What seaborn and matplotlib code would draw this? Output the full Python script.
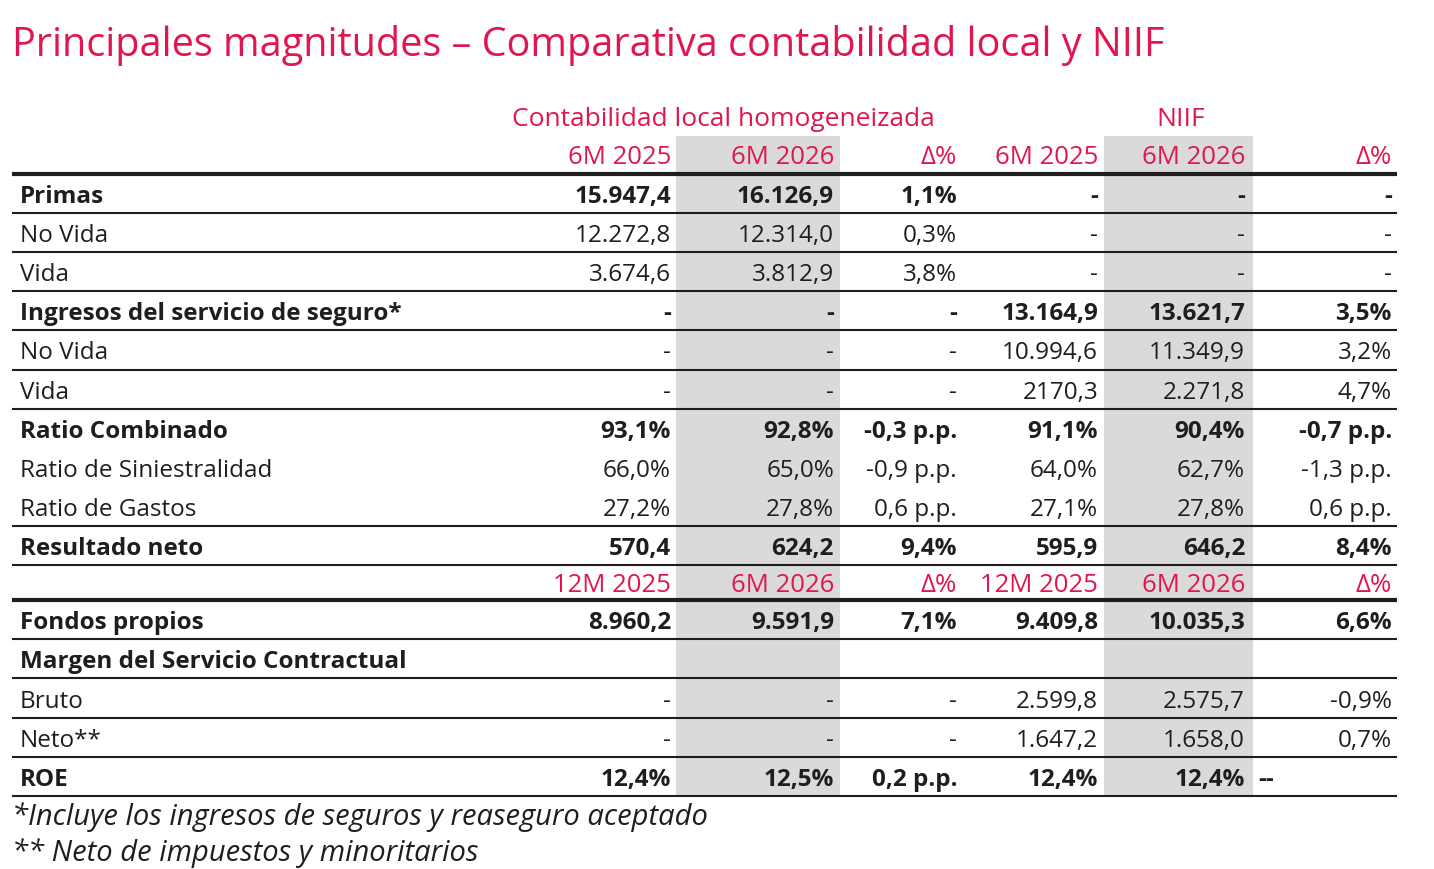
import matplotlib
matplotlib.use("Agg")
import matplotlib.pyplot as plt
import seaborn as sns

# ---------------- data ----------------
title = "Principales magnitudes – Comparativa contabilidad local y NIIF"
group_labels = ["Contabilidad local homogeneizada", "NIIF"]
period_header_1 = ["6M 2025", "6M 2026", "Δ%", "6M 2025", "6M 2026", "Δ%"]
period_header_2 = ["12M 2025", "6M 2026", "Δ%", "12M 2025", "6M 2026", "Δ%"]

rows_block1 = ["Primas", "No Vida", "Vida", "Ingresos del servicio de seguro*",
               "No Vida", "Vida", "Ratio Combinado", "Ratio de Siniestralidad",
               "Ratio de Gastos", "Resultado neto"]
bold_block1 = [True, False, False, True, False, False, True, False, False, True]
local_prev_1 = ["15.947,4", "12.272,8", "3.674,6", "-", "-", "-", "93,1%", "66,0%", "27,2%", "570,4"]
local_curr_1 = ["16.126,9", "12.314,0", "3.812,9", "-", "-", "-", "92,8%", "65,0%", "27,8%", "624,2"]
local_delta_1 = ["1,1%", "0,3%", "3,8%", "-", "-", "-", "-0,3 p.p.", "-0,9 p.p.", "0,6 p.p.", "9,4%"]
niif_prev_1 = ["-", "-", "-", "13.164,9", "10.994,6", "2170,3", "91,1%", "64,0%", "27,1%", "595,9"]
niif_curr_1 = ["-", "-", "-", "13.621,7", "11.349,9", "2.271,8", "90,4%", "62,7%", "27,8%", "646,2"]
niif_delta_1 = ["-", "-", "-", "3,5%", "3,2%", "4,7%", "-0,7 p.p.", "-1,3 p.p.", "0,6 p.p.", "8,4%"]
rule_after_1 = [True, True, True, True, True, True, False, False, True, True]

rows_block2 = ["Fondos propios", "Margen del Servicio Contractual", "Bruto", "Neto**", "ROE"]
bold_block2 = [True, True, False, False, True]
local_prev_2 = ["8.960,2", "", "-", "-", "12,4%"]
local_curr_2 = ["9.591,9", "", "-", "-", "12,5%"]
local_delta_2 = ["7,1%", "", "-", "-", "0,2 p.p."]
niif_prev_2 = ["9.409,8", "", "2.599,8", "1.647,2", "12,4%"]
niif_curr_2 = ["10.035,3", "", "2.575,7", "1.658,0", "12,4%"]
niif_delta_2 = ["6,6%", "", "-0,9%", "0,7%", "--"]

footnotes = ["*Incluye los ingresos de seguros y reaseguro aceptado",
             "** Neto de impuestos y minoritarios"]

# ---------------- style ----------------
sns.set_theme(style="white")
plt.rcParams["font.family"] = ["Open Sans", "DejaVu Sans"]

RED = "#E0174E"
INK = "#1E1E1E"
GREY = "#DADADA"

W, H = 1434, 870
fig = plt.figure(figsize=(W / 100, H / 100), dpi=100)
ax = fig.add_axes([0, 0, 1, 1])
ax.set_xlim(0, W)
ax.set_ylim(H, 0)
ax.axis("off")

# layout (pixels)
x_left, x_right = 12, 1397
label_x = 20
col_right = [671, 834, 957, 1098, 1245, 1392]
col_left = [None, 676, 840, 1104, 1253, 1258]
shade_cols = [(676, 840), (1104, 1253)]
top_rule = 175
row_h = 39.1
sub_h = 35
row_h2 = 39.2
body_fs = 17.5
head_fs = 18.5
text_dy = 2.5

# shading
shade_top, shade_bottom = 137, 797
for x0, x1 in shade_cols:
    ax.add_patch(plt.Rectangle((x0, shade_top), x1 - x0, shade_bottom - shade_top,
                               facecolor=GREY, edgecolor="none", zorder=0))

# title
ax.text(12, 45, title, color=RED, fontsize=28.5, ha="left", va="center")

# group headers
ax.text(723, 119, group_labels[0], color=RED, fontsize=19, ha="center", va="center")
ax.text(1181, 119, group_labels[1], color=RED, fontsize=19, ha="center", va="center")


def header_row(labels, yc):
    for j, t in enumerate(labels):
        ax.text(col_right[j], yc, t, color=RED, fontsize=head_fs, ha="right", va="center")


def rule(y, lw):
    ax.plot([x_left, x_right], [y, y], color=INK, lw=lw, solid_capstyle="butt", zorder=3)


def data_row(label, bold, vals, yc):
    w = "bold" if bold else "normal"
    ax.text(label_x, yc, label, color=INK, fontsize=body_fs, fontweight=w, ha="left", va="center")
    for j, v in enumerate(vals):
        if v == "--":
            ax.text(col_left[j], yc, v, color=INK, fontsize=body_fs, fontweight=w,
                    ha="left", va="center")
        else:
            ax.text(col_right[j], yc, v, color=INK, fontsize=body_fs, fontweight=w,
                    ha="right", va="center")


header_row(period_header_1, 158)
rule(top_rule, 3.0)

y = top_rule
for i, lab in enumerate(rows_block1):
    vals = [local_prev_1[i], local_curr_1[i], local_delta_1[i],
            niif_prev_1[i], niif_curr_1[i], niif_delta_1[i]]
    data_row(lab, bold_block1[i], vals, y + row_h / 2 + text_dy)
    y += row_h
    if rule_after_1[i]:
        rule(y, 1.5)

header_row(period_header_2, y + sub_h / 2 + 1.5)
y += sub_h
rule(y, 3.0)

for i, lab in enumerate(rows_block2):
    vals = [local_prev_2[i], local_curr_2[i], local_delta_2[i],
            niif_prev_2[i], niif_curr_2[i], niif_delta_2[i]]
    data_row(lab, bold_block2[i], vals, y + row_h2 / 2 + text_dy)
    y += row_h2
    rule(y, 1.5)

for k, t in enumerate(footnotes):
    ax.text(12, 817 + 36 * k, t, color=INK, fontsize=21, fontstyle="italic",
            ha="left", va="center")

fig.savefig("out.png", dpi=100)
